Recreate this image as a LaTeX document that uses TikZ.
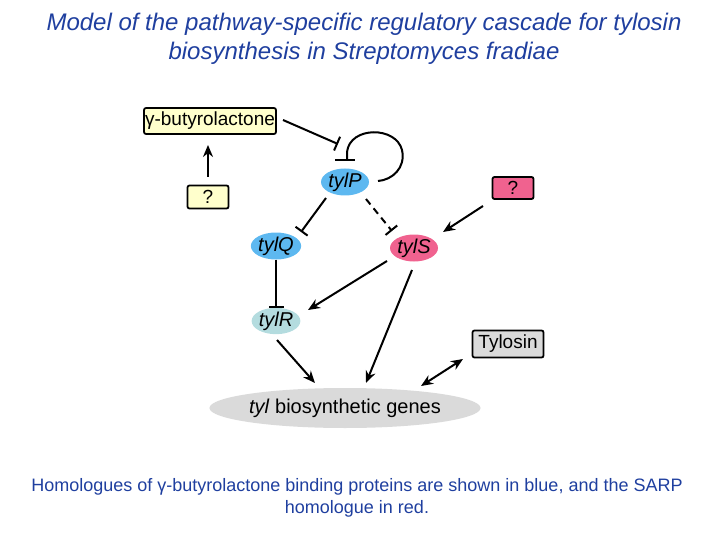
\documentclass[tikz,border=0pt]{standalone}
\usepackage{fontspec}
\setmainfont{Liberation Sans}
\usetikzlibrary{arrows.meta,shapes.geometric}
\definecolor{tblue}{HTML}{1F3F9F}
\definecolor{pblue}{HTML}{5DB8F0}
\definecolor{ppink}{HTML}{F0628F}
\definecolor{pcyan}{HTML}{B4DCDF}
\definecolor{pyel}{HTML}{FFFFCC}
\definecolor{pgray}{HTML}{DADADA}
\begin{document}
\begin{tikzpicture}[x=1pt,y=-1pt,
 ln/.style={line width=2pt},
 box/.style={draw,line width=1.8pt,rounded corners=2pt,inner sep=1pt,font=\fontsize{19}{21}\selectfont},
 ell/.style={ellipse,minimum width=48pt,minimum height=27pt,inner sep=0pt,font=\fontsize{20}{22}\selectfont\itshape},
 act/.style={ln,-{Stealth[length=12pt,width=10pt]}},
 inh/.style={ln,-{Bar[width=15pt]}}]
\useasboundingbox (0,0) rectangle (720,540);
\node[text=tblue,font=\fontsize{24}{29}\selectfont\itshape,align=center] (title) at (364,39) {Model of the pathway-specific regulatory cascade for tylosin\\biosynthesis in Streptomyces fradiae};
\node[box,fill=pyel,minimum width=127pt,minimum height=26pt] (gbl) at (210,121) {γ-butyrolactone};
\node[box,fill=pyel,minimum width=41pt,minimum height=23pt] (q1) at (208,197) {?};
\node[ell,fill=pblue] (P) at (345,182) {tylP};
\node[box,fill=ppink,minimum width=41pt,minimum height=22pt] (q2) at (513,188) {?};
\node[ell,fill=pblue] (Q) at (276,246) {tylQ};
\node[ell,fill=ppink] (S) at (414,248) {tylS};
\node[ell,fill=pcyan,minimum height=24pt] (R) at (276,321) {tylR};
\node[box,fill=pgray,minimum width=71pt,minimum height=27pt] (T) at (508,344) {Tylosin};
\node[ellipse,fill=pgray,minimum width=196pt,minimum height=40pt,inner sep=0pt,font=\fontsize{20}{22}\selectfont] (G) at (345,408) {\textit{tyl} biosynthetic genes};
\draw[inh] (283,120) -- (338,144);
\draw[ln] (335,160) -- (355,160);
\draw[ln] (347,160) -- (347,152) .. controls (350,126) and (396,126) .. (402,150) .. controls (406,168) and (392,180) .. (378,181);
\draw[act] (q1.north |- 0,177) -- (q1.north |- 0,145);
\draw[inh] (326,198) -- (301,232);
\draw[inh,dash pattern=on 7pt off 5pt] (366,199) -- (392,231);
\draw[act] (483,206) -- (443,232);
\draw[inh] (Q) -- (R);
\draw[act] (387,261) -- (308,310);
\draw[act] (412,270) -- (366,383);
\draw[act] (277,340) -- (315,383);
\draw[ln,{Stealth[length=12pt,width=10pt]}-{Stealth[length=12pt,width=10pt]}] (421,386) -- (463,359);
\node[text=tblue,font=\fontsize{18}{22}\selectfont,align=center] (cap) at (357,498) {Homologues of γ-butyrolactone binding proteins are shown in blue, and the SARP\\homologue in red.};
\end{tikzpicture}
\end{document}
